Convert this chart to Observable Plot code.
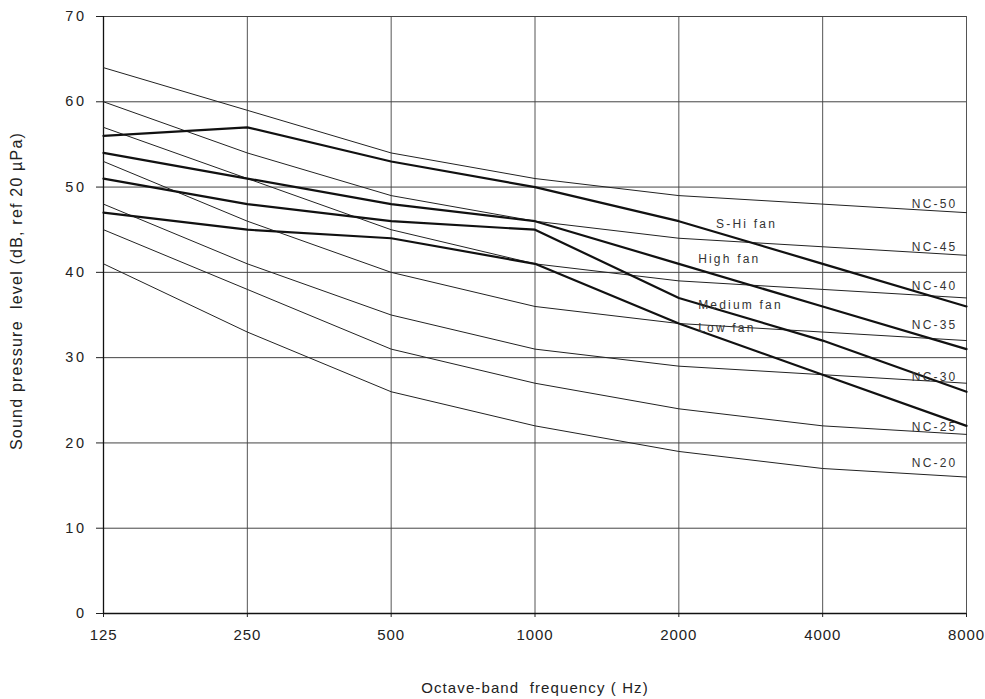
<!DOCTYPE html>
<html>
<head>
<meta charset="utf-8">
<script src="https://cdn.jsdelivr.net/npm/d3@7"></script>
<script src="https://cdn.jsdelivr.net/npm/@observablehq/plot@0.6"></script>
<style>
  html, body { margin: 0; padding: 0; background: #fff; }
  #chart { width: 985px; height: 699px; }
</style>
</head>
<body>
<div id="chart"></div>
<script>
// Octave-band centre frequencies (Hz)
const freqs = [125, 250, 500, 1000, 2000, 4000, 8000];
const yTicks = [0, 10, 20, 30, 40, 50, 60, 70];

// NC curves (dB)
const nc50 = [64, 59, 54, 51, 49, 48, 47];
const nc45 = [60, 54, 49, 46, 44, 43, 42];
const nc40 = [57, 51, 45, 41, 39, 38, 37];
const nc35 = [53, 46, 40, 36, 34, 33, 32];
const nc30 = [48, 41, 35, 31, 29, 28, 27];
const nc25 = [45, 38, 31, 27, 24, 22, 21];
const nc20 = [41, 33, 26, 22, 19, 17, 16];

// Fan speeds (dB)
const fanSHi = [56, 57, 53, 50, 46, 41, 36];
const fanHigh = [54, 51, 48, 46, 41, 36, 31];
const fanMedium = [51, 48, 46, 45, 37, 32, 26];
const fanLow = [47, 45, 44, 41, 34, 28, 22];

// Label texts and anchor values
const ncNames = ["NC-50", "NC-45", "NC-40", "NC-35", "NC-30", "NC-25", "NC-20"];
const ncLabelLevels = [48.0, 42.9, 38.4, 33.8, 27.7, 21.8, 17.6];
const fanNames = ["S-Hi fan", "High fan", "Medium fan", "Low fan"];
const fanLabelFreqs = [2393, 2195, 2195, 2195];
const fanLabelLevels = [45.6, 41.5, 36.2, 33.4];
const xTitle = "Octave-band  frequency ( Hz)";
const yTitle = "Sound pressure  level (dB, ref 20 µPa)";

const ncSeries = [nc50, nc45, nc40, nc35, nc30, nc25, nc20];
const fanSeries = [fanSHi, fanHigh, fanMedium, fanLow];

const ncData = ncSeries.flatMap((vals, i) => vals.map((v, j) => ({name: ncNames[i], freq: freqs[j], level: v})));
const fanData = fanSeries.flatMap((vals, i) => vals.map((v, j) => ({name: fanNames[i], freq: freqs[j], level: v})));
const ncLabels = ncNames.map((n, i) => ({name: n, freq: 8000, level: ncLabelLevels[i]}));
const fanLabels = fanNames.map((n, i) => ({name: n, freq: fanLabelFreqs[i], level: fanLabelLevels[i]}));

const chart = Plot.plot({
  width: 985,
  height: 699,
  marginLeft: 103,
  marginRight: 19,
  marginTop: 16,
  marginBottom: 86,
  style: {fontFamily: "'Liberation Sans', Arial, sans-serif", fontSize: "13px", background: "#fff", color: "#222"},
  x: {type: "log", base: 2, domain: [125, 8000]},
  y: {domain: [0, 70]},
  marks: [
    Plot.gridX(freqs, {stroke: "#555", strokeOpacity: 1, strokeWidth: 1}),
    Plot.gridY(yTicks, {stroke: "#444", strokeOpacity: 1, strokeWidth: 1}),
    Plot.axisX(freqs, {tickSize: 4, tickPadding: 12, tickFormat: d => String(d), label: null}),
    Plot.axisY(yTicks, {tickSize: 7, tickPadding: 10, label: null}),
    Plot.ruleX([125], {stroke: "#111", strokeWidth: 1.3}),
    Plot.ruleY([0], {stroke: "#111", strokeWidth: 1.3}),
    Plot.line(ncData, {x: "freq", y: "level", z: "name", stroke: "#222", strokeWidth: 1}),
    Plot.line(fanData, {x: "freq", y: "level", z: "name", stroke: "#111", strokeWidth: 2.2}),
    Plot.text(ncLabels, {x: "freq", y: "level", text: "name", textAnchor: "end", dx: -9, fontSize: 12, fill: "#333"}),
    Plot.text(fanLabels, {x: "freq", y: "level", text: "name", textAnchor: "start", fontSize: 12, fill: "#333"})
  ]
});

const svg = d3.select(chart);
svg.selectAll("text").filter(function() { return ncNames.includes(this.textContent); })
  .style("letter-spacing", "2.2px");
svg.selectAll("text").filter(function() { return fanNames.includes(this.textContent); })
  .style("letter-spacing", "2.2px");
const yTickStr = yTicks.map(String);
const xTickStr = freqs.map(String);
svg.selectAll("text").filter(function() { return yTickStr.includes(this.textContent) && !xTickStr.includes(this.textContent); })
  .attr("font-size", "14.5").style("font-size", "14.5px").style("letter-spacing", "2.5px");
svg.selectAll("text").filter(function() { return xTickStr.includes(this.textContent); })
  .attr("font-size", "15").style("font-size", "15px").style("letter-spacing", "0.9px");

// Axis titles
svg.append("text")
  .attr("x", 535).attr("y", 689)
  .attr("text-anchor", "middle").attr("dominant-baseline", "middle")
  .attr("font-size", 15).attr("fill", "#222")
  .style("letter-spacing", "1.1px").style("white-space", "pre")
  .text(xTitle);
svg.append("text")
  .attr("transform", "translate(18,291) rotate(-90)")
  .attr("text-anchor", "middle").attr("dominant-baseline", "middle")
  .attr("font-size", 16).attr("fill", "#222")
  .style("letter-spacing", "1.2px").style("white-space", "pre")
  .text(yTitle);

document.getElementById("chart").appendChild(chart);
</script>
</body>
</html>
